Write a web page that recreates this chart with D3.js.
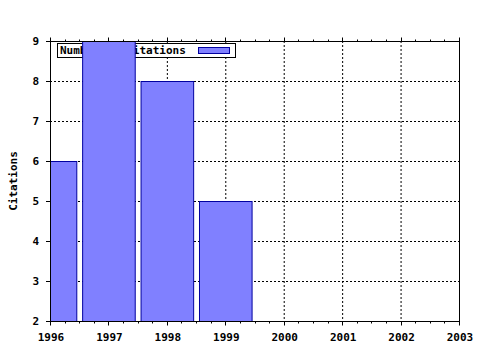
<!DOCTYPE html>
<html>
<head>
<meta charset="utf-8">
<script src="https://cdn.jsdelivr.net/npm/d3@7"></script>
<style>
  body { margin: 0; background: #fff; }
  svg { display: block; }
  text { font-family: "DejaVu Sans Mono", monospace; font-weight: bold; font-size: 11px; fill: #000; }
</style>
</head>
<body>
<div id="chart"></div>
<script>
// values
let years = [1996, 1997, 1998, 1999];
let citations = [6, 9, 8, 5];
let xTicks = [1996, 1997, 1998, 1999, 2000, 2001, 2002, 2003];
let yTicks = [2, 3, 4, 5, 6, 7, 8, 9];
let seriesName = "Number of citations";

let width = 480, height = 350;
let margin = {top: 41, right: 21, bottom: 29, left: 50};
let plotW = width - margin.left - margin.right;
let plotH = height - margin.top - margin.bottom;

let svg = d3.select("#chart").append("svg")
    .attr("width", width)
    .attr("height", height);

let x = d3.scaleLinear().domain([1996, 2003]).range([0, plotW]);
let y = d3.scaleLinear().domain([2, 9]).range([plotH, 0]);

let g = svg.append("g").attr("transform", `translate(${margin.left},${margin.top})`);

svg.append("defs").append("clipPath").attr("id", "plot")
  .append("rect").attr("width", plotW).attr("height", plotH);

// grid
g.selectAll(".vgrid").data(xTicks.slice(1, -1)).join("line")
    .attr("x1", d => x(d) + 0.5).attr("x2", d => x(d) + 0.5)
    .attr("y1", 0).attr("y2", plotH)
    .attr("stroke", "#000").attr("stroke-dasharray", "2,2");
g.selectAll(".hgrid").data(yTicks.slice(1, -1)).join("line")
    .attr("y1", d => y(d) + 0.5).attr("y2", d => y(d) + 0.5)
    .attr("x1", 0).attr("x2", plotW)
    .attr("stroke", "#000").attr("stroke-dasharray", "2,2");

// legend (drawn under the bars)
let legend = g.append("g").attr("transform", "translate(7,2)");
legend.append("rect").attr("x", 0.5).attr("y", 0.5).attr("width", 178).attr("height", 14)
    .attr("fill", "#fff").attr("stroke", "#000");
legend.append("text").attr("x", 3).attr("y", 11).text(seriesName);
legend.append("rect").attr("x", 141.5).attr("y", 4.5).attr("width", 31).attr("height", 6)
    .attr("fill", "#8080ff").attr("stroke", "#0000a0");

// bars
let step = x(1997) - x(1996);
let barW = step * 0.9;
g.append("g").attr("clip-path", "url(#plot)")
  .selectAll("rect").data(years).join("rect")
    .attr("x", (d) => x(d) - barW / 2 + 0.5)
    .attr("y", (d, i) => y(citations[i]) + 0.5)
    .attr("width", barW)
    .attr("height", (d, i) => y(2) - y(citations[i]))
    .attr("fill", "#8080ff")
    .attr("stroke", "#0000a0");

// frame
g.append("rect").attr("x", 0.5).attr("y", 0.5).attr("width", plotW).attr("height", plotH)
    .attr("fill", "none").attr("stroke", "#000");

// x axes top and bottom with minor ticks
let minor = d3.range(1996, 2003.01, 0.25);
function xTicksAt(yPos, dir) {
  g.selectAll(null).data(minor).join("line")
    .attr("x1", d => Math.round(x(d)) + 0.5).attr("x2", d => Math.round(x(d)) + 0.5)
    .attr("y1", yPos)
    .attr("y2", d => yPos + dir * (Number.isInteger(d) ? 4 : 2))
    .attr("stroke", "#000");
}
xTicksAt(plotH + 0.5, 1);
xTicksAt(0.5, -1);

g.selectAll(".xl").data(xTicks).join("text")
    .attr("x", d => x(d) + 1)
    .attr("y", plotH + 20)
    .attr("text-anchor", "middle")
    .text(d => d);

// y axis ticks
g.selectAll(".yt").data(yTicks).join("line")
    .attr("x1", -4).attr("x2", 0)
    .attr("y1", d => y(d) + 0.5).attr("y2", d => y(d) + 0.5)
    .attr("stroke", "#000");
g.selectAll(".yl").data(yTicks).join("text")
    .attr("x", -11)
    .attr("y", d => y(d) + 4)
    .attr("text-anchor", "end")
    .text(d => d);

svg.append("text")
    .attr("transform", `translate(17,${margin.top + plotH / 2}) rotate(-90)`)
    .attr("text-anchor", "middle")
    .text("Citations");
</script>
</body>
</html>
